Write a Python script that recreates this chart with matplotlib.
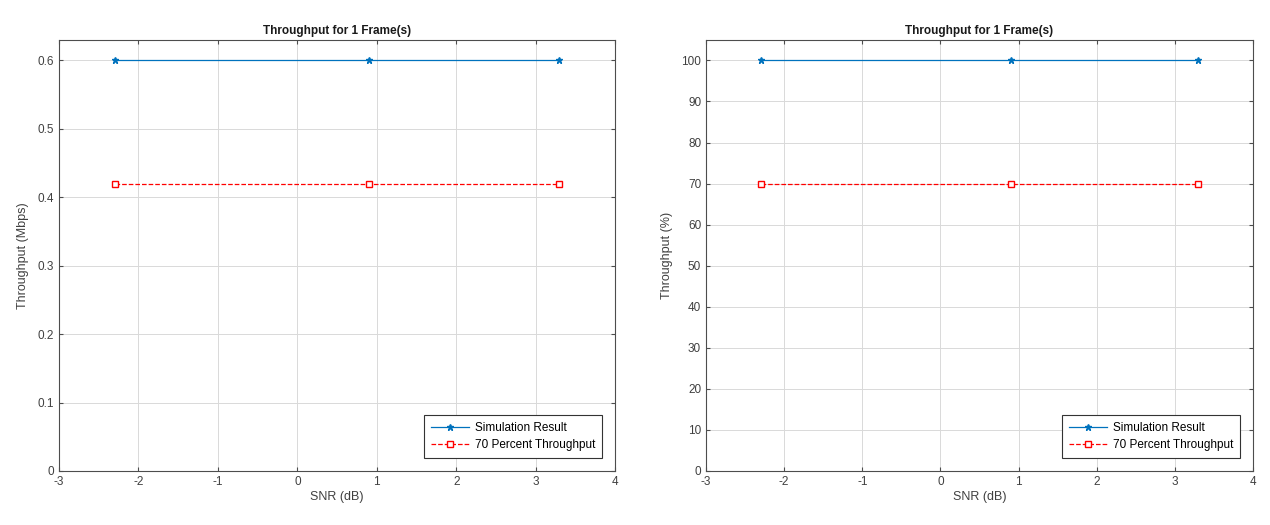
import matplotlib
matplotlib.use("Agg")
import matplotlib.pyplot as plt
import numpy as np

plt.rcParams['font.family'] = ['Liberation Sans', 'DejaVu Sans']
plt.rcParams['axes.unicode_minus'] = False

# data
snr_db = [-2.3, 0.9, 3.3]
sim_mbps = [0.6, 0.6, 0.6]
ref_mbps = [0.42, 0.42, 0.42]
sim_pct = [100, 100, 100]
ref_pct = [70, 70, 70]

title = "Throughput for 1 Frame(s)"
xlabel = "SNR (dB)"
legend_labels = ["Simulation Result", "70 Percent Throughput"]

blue = '#0072BD'
red = '#FF0000'
axis_col = '#4d4d4d'


def style_axes(ax, ylim, yticks, ylabel):
    ax.set_xlim(-3, 4)
    ax.set_xticks(np.arange(-3, 5, 1))
    ax.set_ylim(*ylim)
    ax.set_yticks(yticks)
    ax.grid(True, color='#d9d9d9', linewidth=0.7)
    ax.set_axisbelow(True)
    ax.tick_params(direction='in', top=True, right=True, length=3,
                   labelsize=8.5, colors=axis_col, labelcolor='#404040')
    for s in ax.spines.values():
        s.set_color(axis_col)
        s.set_linewidth(0.8)
    ax.set_title(title, fontsize=8.5, fontweight='bold', color='#1a1a1a', pad=4)
    ax.set_xlabel(xlabel, fontsize=9, color='#404040', labelpad=2)
    ax.set_ylabel(ylabel, fontsize=9, color='#404040', labelpad=6)
    leg = ax.legend(loc='lower right', fontsize=8.5, frameon=True, fancybox=False,
                    edgecolor='#333333', framealpha=1, borderaxespad=1.1,
                    borderpad=0.6, handlelength=3.2, labelspacing=0.4,
                    handletextpad=0.5)
    leg.get_frame().set_linewidth(0.8)


fig = plt.figure(figsize=(12.7, 5.25), dpi=100)

ax1 = fig.add_axes([0.0465, 0.103, 0.4378, 0.821])
ax1.plot(snr_db, sim_mbps, '-*', color=blue, linewidth=0.9, markersize=5,
         label=legend_labels[0])
ax1.plot(snr_db, ref_mbps, '--s', color=red, linewidth=0.9, markersize=5,
         markerfacecolor='white', label=legend_labels[1])
style_axes(ax1, (0, 0.63), np.arange(0, 0.61, 0.1), "Throughput (Mbps)")
ax1.set_yticklabels(['0', '0.1', '0.2', '0.3', '0.4', '0.5', '0.6'])

ax2 = fig.add_axes([0.5559, 0.103, 0.4307, 0.821])
ax2.plot(snr_db, sim_pct, '-*', color=blue, linewidth=0.9, markersize=5,
         label=legend_labels[0])
ax2.plot(snr_db, ref_pct, '--s', color=red, linewidth=0.9, markersize=5,
         markerfacecolor='white', label=legend_labels[1])
style_axes(ax2, (0, 105), np.arange(0, 101, 10), "Throughput (%)")

fig.savefig("out.png", dpi=100)
